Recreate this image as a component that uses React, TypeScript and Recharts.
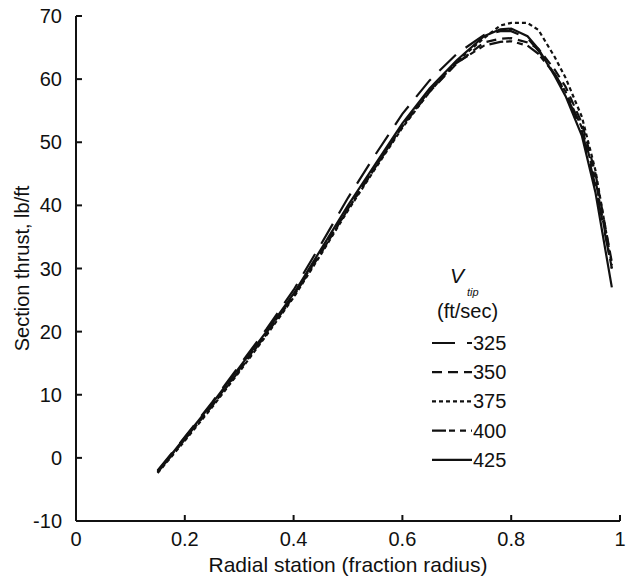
import { CartesianGrid, Label, Line, LineChart, XAxis, YAxis } from "recharts";

// Section thrust vs radial station for five tip speeds.
const radial = [
  0.15, 0.2, 0.25, 0.3, 0.35, 0.4, 0.45, 0.5, 0.55, 0.6, 0.65, 0.7, 0.75, 0.78,
  0.8, 0.83, 0.85, 0.88, 0.9, 0.93, 0.955, 0.985,
];
const thrust325 = [
  -2, 3.3, 8.8, 14.6, 20.4, 26.6, 33.8, 41.2, 48, 54.5, 59.8, 64, 67, 67.6,
  67.6, 66.5, 64.5, 60.8, 57.8, 51.8, 43, 30,
];
const thrust350 = [
  -2.2, 3, 8.3, 14, 19.8, 25.8, 32.6, 39.5, 46, 52.5, 58, 62.5, 65.8, 66.4,
  66.5, 65.8, 64.8, 61.5, 58.8, 53, 45, 31,
];
const thrust375 = [
  -2.4, 2.7, 8, 13.6, 19.4, 25.4, 32.2, 39.2, 45.8, 52.3, 58, 62.8, 66.5, 68.5,
  68.9, 68.9, 67.8, 63.5, 60.2, 54, 45.5, 30.5,
];
const thrust400 = [
  -2.3, 2.9, 8.2, 13.8, 19.6, 25.6, 32.4, 39.4, 46, 52.6, 58.2, 62.6, 65.3,
  65.9, 66, 65.3, 64, 60.8, 58, 52.3, 44, 30,
];
const thrust425 = [
  -2.2, 3.2, 8.6, 14.3, 20, 26, 33, 40, 46.5, 53, 58.5, 63, 66.8, 67.9, 68,
  66.8, 64.8, 60.5, 57.3, 51, 42, 27,
];

const xTicks = [0, 0.2, 0.4, 0.6, 0.8, 1];
const yTicks = [-10, 0, 10, 20, 30, 40, 50, 60, 70];
const tipSpeeds = ["325", "350", "375", "400", "425"];

const data = radial.map((r, i) => ({
  r,
  v325: thrust325[i],
  v350: thrust350[i],
  v375: thrust375[i],
  v400: thrust400[i],
  v425: thrust425[i],
}));

const DASHES: Record<string, string | undefined> = {
  "325": "23 12",
  "350": "10 6",
  "375": "4 3",
  "400": "14 3 6 5 6 5",
  "425": undefined,
};

const FONT = '"Liberation Sans", Arial, Helvetica, sans-serif';
const INK = "#111";

export default function App() {
  return (
    <div
      style={{
        position: "absolute",
        left: 0,
        top: 0,
        width: 630,
        height: 581,
        background: "#fff",
        fontFamily: FONT,
      }}
    >
      <LineChart
        width={630}
        height={581}
        data={data}
        margin={{ top: 16, right: 10, bottom: 0, left: 0 }}
      >
        <CartesianGrid stroke="none" />
        <XAxis
          dataKey="r"
          type="number"
          domain={[0, 1]}
          ticks={xTicks}
          height={60}
          stroke={INK}
          strokeWidth={2}
          tickSize={-6}
          tickMargin={17}
          tick={{ fontSize: 20, fill: INK }}
        >
          <Label
            value="Radial station (fraction radius)"
            position="insideBottom"
            offset={9}
            style={{ fontSize: 21, fill: INK }}
          />
        </XAxis>
        <YAxis
          type="number"
          domain={[-10, 70]}
          ticks={yTicks}
          width={76}
          stroke={INK}
          strokeWidth={2}
          tickSize={-6}
          tickMargin={20}
          tick={{ fontSize: 20, fill: INK }}
        >
          <Label
            value="Section thrust, lb/ft"
            angle={-90}
            position="insideLeft"
            offset={22}
            style={{ fontSize: 20, fill: INK, textAnchor: "middle" }}
          />
        </YAxis>
        {tipSpeeds.map((s) => (
          <Line
            key={s}
            dataKey={`v${s}`}
            type="linear"
            stroke={INK}
            strokeWidth={2.2}
            strokeDasharray={DASHES[s]}
            dot={false}
            activeDot={false}
            isAnimationActive={false}
          />
        ))}
      </LineChart>

      {/* legend: V_tip (ft/sec) with line samples */}
      <svg
        width={630}
        height={581}
        style={{ position: "absolute", left: 0, top: 0, pointerEvents: "none" }}
      >
        <text x={450} y={283} fontSize={21} fontStyle="italic" fill={INK}>
          V
        </text>
        <text x={467} y={296} fontSize={11} fontStyle="italic" fill={INK}>
          tip
        </text>
        <text x={437} y={318} fontSize={20} fill={INK}>
          (ft/sec)
        </text>
        {tipSpeeds.map((s, i) => {
          const cy = 343 + i * 29.2;
          return (
            <g key={s}>
              <line
                x1={432}
                x2={472}
                y1={cy}
                y2={cy}
                stroke={INK}
                strokeWidth={2.2}
                strokeDasharray={DASHES[s]}
              />
              <text x={473} y={cy + 7} fontSize={20} fill={INK}>
                {s}
              </text>
            </g>
          );
        })}
      </svg>
    </div>
  );
}
